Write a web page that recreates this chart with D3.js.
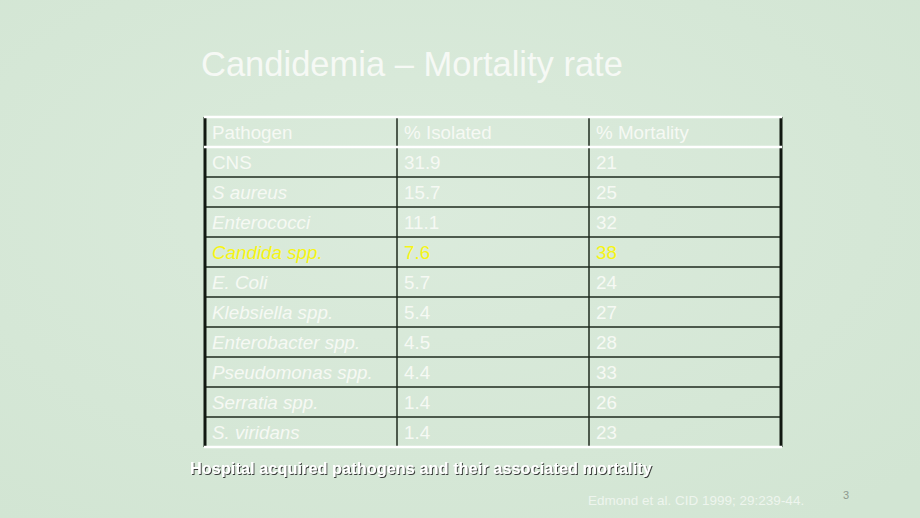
<!DOCTYPE html>
<html>
<head>
<meta charset="utf-8">
<script src="https://cdn.jsdelivr.net/npm/d3@7"></script>
<style>
  html, body { margin: 0; padding: 0; background: #d6e8d7; }
  svg { display: block; font-family: "Liberation Sans", Arial, sans-serif; }
</style>
</head>
<body>
<script>
var headers = ["Pathogen", "% Isolated", "% Mortality"];
var pathogens = ["CNS", "S aureus", "Enterococci", "Candida spp.", "E. Coli", "Klebsiella spp.",
  "Enterobacter spp.", "Pseudomonas spp.", "Serratia spp.", "S. viridans"];
var isolated = ["31.9", "15.7", "11.1", "7.6", "5.7", "5.4", "4.5", "4.4", "1.4", "1.4"];
var mortality = ["21", "25", "32", "38", "24", "27", "28", "33", "26", "23"];
var highlight = "Candida spp.";

var width = 920,
    height = 518;

var svg = d3.select("body").append("svg")
    .attr("width", width)
    .attr("height", height);

// background, pale green with a soft wash
var defs = svg.append("defs");
var grad = defs.append("radialGradient").attr("id", "bg").attr("cx", "45%").attr("cy", "40%").attr("r", "75%");
grad.append("stop").attr("offset", "0%").attr("stop-color", "#dbebdc");
grad.append("stop").attr("offset", "100%").attr("stop-color", "#d2e5d3");
svg.append("rect").attr("width", width).attr("height", height).attr("fill", "url(#bg)");

var shadow = defs.append("filter").attr("id", "shadow").attr("x", "-5%").attr("y", "-30%").attr("width", "110%").attr("height", "160%");
shadow.append("feDropShadow").attr("dx", 1).attr("dy", 1).attr("stdDeviation", 0.4).attr("flood-color", "#2a2a2a").attr("flood-opacity", 0.9);

svg.append("text")
    .attr("x", 201).attr("y", 76)
    .attr("fill", "#f6f9f5")
    .style("font-size", "34.5px")
    .text("Candidemia \u2013 Mortality rate");

// table layout
var rows = ["header"].concat(pathogens);
var y = d3.scaleBand().domain(d3.range(rows.length)).range([117, 447]);
var x = d3.scaleOrdinal().domain(headers).range([205, 397, 589]);
var right = 781;

var table = svg.append("g").attr("class", "table");

var textColor = "#f6f9f4";
var fontSize = "18.8px";

// header
table.selectAll("text.head")
    .data(headers)
  .enter().append("text")
    .attr("class", "head")
    .attr("x", function(d) { return x(d) + 7; })
    .attr("y", y(0) + 22)
    .attr("fill", textColor)
    .style("font-size", fontSize)
    .text(function(d) { return d; });

var body = table.selectAll("g.row")
    .data(pathogens)
  .enter().append("g")
    .attr("class", "row")
    .attr("transform", function(d, i) { return "translate(0," + y(i + 1) + ")"; });

body.append("text")
    .attr("x", x(headers[0]) + 7)
    .attr("y", 21.5)
    .attr("fill", function(d) { return d === highlight ? "#f6f514" : textColor; })
    .style("font-size", fontSize)
    .style("font-style", function(d) { return d === "CNS" ? "normal" : "italic"; })
    .text(function(d) { return d; });

body.append("text")
    .attr("x", x(headers[1]) + 7)
    .attr("y", 21.5)
    .attr("fill", function(d) { return d === highlight ? "#f6f514" : textColor; })
    .style("font-size", fontSize)
    .text(function(d, i) { return isolated[i]; });

body.append("text")
    .attr("x", x(headers[2]) + 7)
    .attr("y", 21.5)
    .attr("fill", function(d) { return d === highlight ? "#f6f514" : textColor; })
    .style("font-size", fontSize)
    .text(function(d, i) { return mortality[i]; });

// inner horizontal lines (dark)
table.selectAll("line.h")
    .data(d3.range(2, rows.length))
  .enter().append("line")
    .attr("class", "h")
    .attr("x1", x(headers[0])).attr("x2", right)
    .attr("y1", function(i) { return y(i); }).attr("y2", function(i) { return y(i); })
    .attr("stroke", "#1e2a1e").attr("stroke-width", 1.5);

// vertical dividers
table.selectAll("line.v")
    .data(headers.slice(1))
  .enter().append("line")
    .attr("class", "v")
    .attr("x1", function(d) { return x(d); }).attr("x2", function(d) { return x(d); })
    .attr("y1", y(0)).attr("y2", y.range()[1])
    .attr("stroke", "#1e2a1e").attr("stroke-width", 1.5);

// outer left/right borders, thick
table.selectAll("line.edge")
    .data([x(headers[0]), right])
  .enter().append("line")
    .attr("class", "edge")
    .attr("x1", function(d) { return d; }).attr("x2", function(d) { return d; })
    .attr("y1", y(0)).attr("y2", y.range()[1])
    .attr("stroke", "#111811").attr("stroke-width", 3);

// white lines: top, under header, bottom
table.selectAll("line.w")
    .data([y(0), y(1), y.range()[1]])
  .enter().append("line")
    .attr("class", "w")
    .attr("x1", x(headers[0]) - 1).attr("x2", right + 1)
    .attr("y1", function(d) { return d; }).attr("y2", function(d) { return d; })
    .attr("stroke", "#ffffff").attr("stroke-width", 2.5);

svg.append("text")
    .attr("x", 190).attr("y", 474)
    .attr("fill", "#ffffff")
    .attr("filter", "url(#shadow)")
    .style("font-size", "16.2px")
    .style("font-weight", "bold")
    .style("letter-spacing", "0.1px")
    .text("Hospital acquired pathogens and their associated mortality");

svg.append("text")
    .attr("x", 588).attr("y", 505)
    .attr("fill", "#eef5ee")
    .style("font-size", "13.5px")
    .text("Edmond et al. CID 1999; 29:239-44.");

svg.append("text")
    .attr("x", 843).attr("y", 499)
    .attr("fill", "#8e9a8e")
    .style("font-size", "11px")
    .text("3");
</script>
</body>
</html>
